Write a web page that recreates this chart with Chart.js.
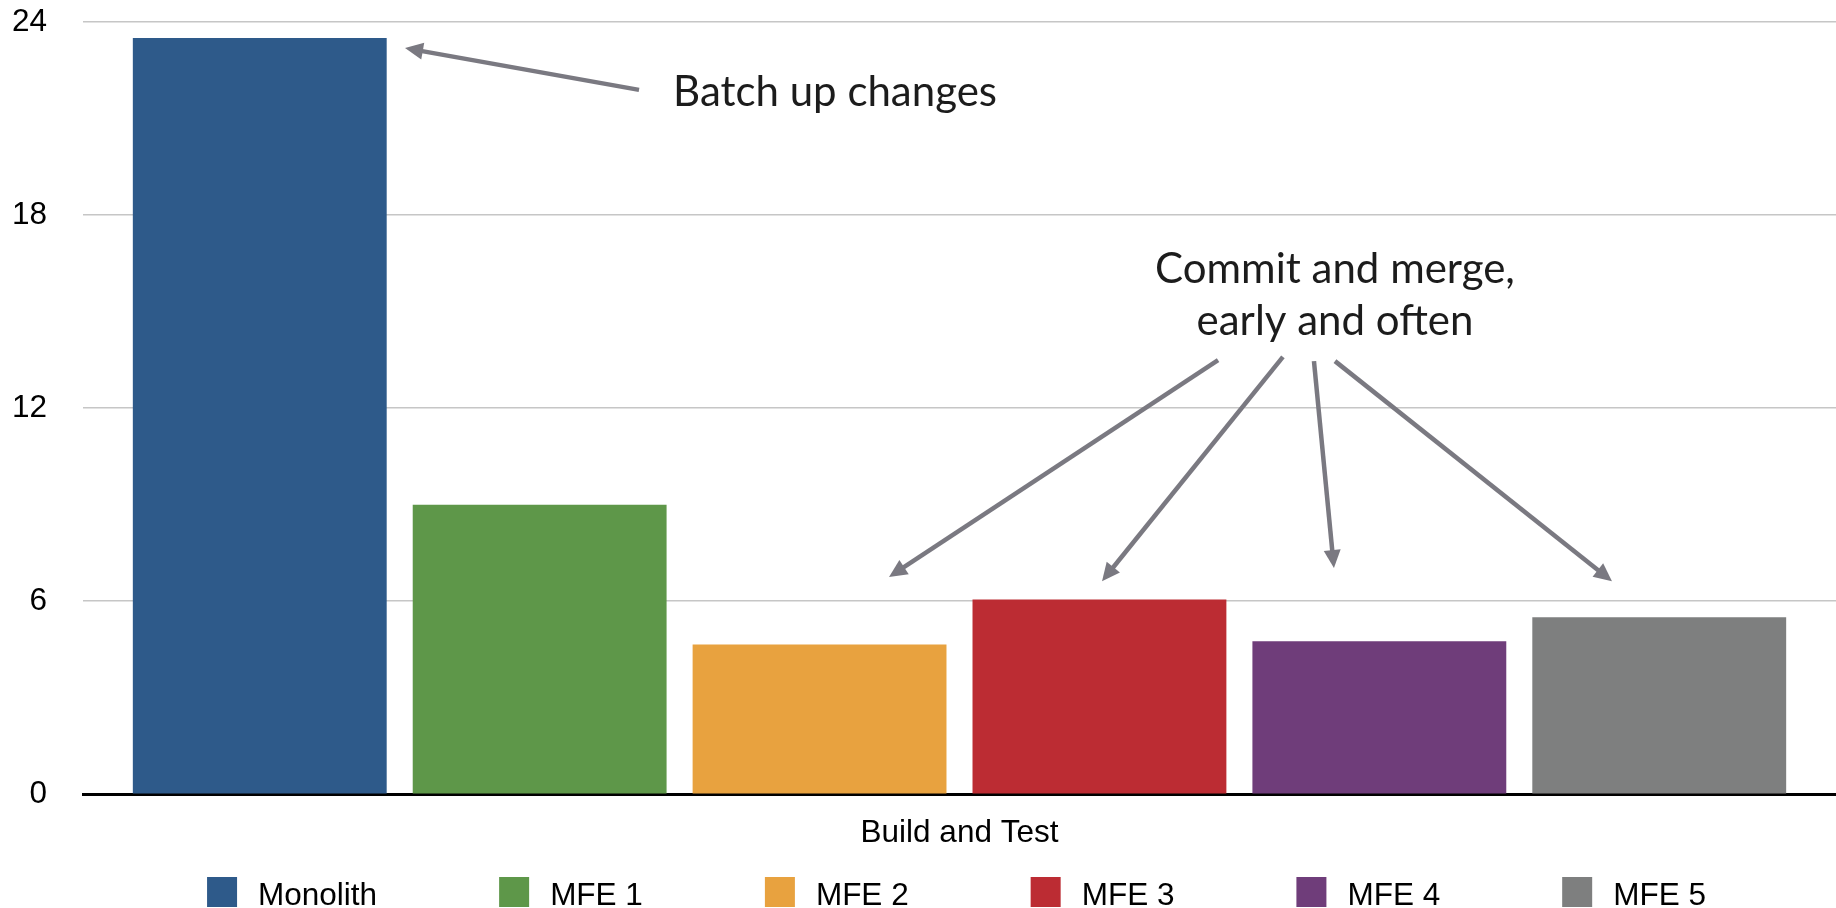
<!DOCTYPE html>
<html>
<head>
<meta charset="utf-8">
<script src="https://cdn.jsdelivr.net/npm/chart.js@4/dist/chart.umd.min.js"></script>
<style>
  html, body { margin: 0; padding: 0; background: #fff; }
  #wrap { width: 1836px; height: 908px; position: relative; }
</style>
</head>
<body>
<div id="wrap"><canvas id="myChart"></canvas></div>
<script>
const categories = ['Build and Test'];
const seriesNames = ['Monolith', 'MFE 1', 'MFE 2', 'MFE 3', 'MFE 4', 'MFE 5'];
const seriesValues = [23.5, 9.0, 4.65, 6.05, 4.75, 5.5];
const seriesColors = ['#2e5a8a', '#5e9749', '#e8a23f', '#bc2c33', '#6f3d7a', '#7e7f7f'];
const yTicks = [0, 6, 12, 18, 24];

// annotation anchors: x as a fraction of the plot width, y in axis units
const batchArrow = { from: [0.3172, 21.89], to: [0.1837, 23.19] };
const batchText = { at: [0.3366, 21.4], lines: ['Batch up changes'] };
const mergeArrows = [
    { from: [0.6475, 13.49], to: [0.4598, 6.75] },
    { from: [0.6845, 13.59], to: [0.5813, 6.62] },
    { from: [0.7022, 13.46], to: [0.7136, 7.03] },
    { from: [0.7142, 13.46], to: [0.8722, 6.62] },
];
const mergeText = { at: [0.7142, 15.89], lines: ['Commit and merge,', 'early and often'] };

const axisFont = { family: '"Liberation Sans", Arial, sans-serif', size: 31.5 };
const noteFont = '400 42px Lato, "Open Sans", sans-serif';
const arrowColor = '#7a7981';

const data = {
    labels: categories,
    datasets: seriesNames.map((name, i) => ({
        label: name,
        data: [seriesValues[i]],
        backgroundColor: seriesColors[i],
        borderWidth: 0,
    })),
};

function toPx(chart, p) {
    const area = chart.chartArea;
    return [area.left + p[0] * (area.right - area.left), chart.scales.y.getPixelForValue(p[1])];
}

function drawArrow(ctx, a, b) {
    const dx = b[0] - a[0], dy = b[1] - a[1];
    const len = Math.hypot(dx, dy);
    const ux = dx / len, uy = dy / len;
    const headLen = 18, headHalf = 8.5;
    const bx = b[0] - ux * headLen, by = b[1] - uy * headLen;
    ctx.beginPath();
    ctx.moveTo(a[0], a[1]);
    ctx.lineTo(bx + ux * 2, by + uy * 2);
    ctx.stroke();
    ctx.beginPath();
    ctx.moveTo(b[0], b[1]);
    ctx.lineTo(bx - uy * headHalf, by + ux * headHalf);
    ctx.lineTo(bx + uy * headHalf, by - ux * headHalf);
    ctx.closePath();
    ctx.fill();
}

const notesPlugin = {
    id: 'notes',
    afterDraw(chart) {
        const ctx = chart.ctx;
        ctx.save();
        ctx.strokeStyle = arrowColor;
        ctx.fillStyle = arrowColor;
        ctx.lineWidth = 4.5;
        ctx.lineCap = 'butt';
        drawArrow(ctx, toPx(chart, batchArrow.from), toPx(chart, batchArrow.to));
        mergeArrows.forEach(ar => drawArrow(ctx, toPx(chart, ar.from), toPx(chart, ar.to)));

        ctx.fillStyle = '#1c1c1c';
        ctx.font = noteFont;
        ctx.textBaseline = 'alphabetic';
        let p = toPx(chart, batchText.at);
        ctx.textAlign = 'left';
        ctx.fillText(batchText.lines[0], p[0], p[1]);
        p = toPx(chart, mergeText.at);
        ctx.textAlign = 'center';
        mergeText.lines.forEach((line, i) => ctx.fillText(line, p[0], p[1] + i * 52));
        ctx.restore();
    },
};

// legend drawn as a single row under the axis label
const legendPlugin = {
    id: 'rowLegend',
    afterDraw(chart) {
        const ctx = chart.ctx;
        const area = chart.chartArea;
        const box = 30, gap = 21, spacing = 122;
        ctx.save();
        ctx.font = axisFont.size + 'px ' + axisFont.family;
        const items = chart.data.datasets.map(ds => ({
            text: ds.label,
            color: ds.backgroundColor,
            w: box + gap + ctx.measureText(ds.label).width,
        }));
        const total = items.reduce((s, it) => s + it.w, 0) + spacing * (items.length - 1);
        let x = (area.left + area.right) / 2 - 3 - total / 2;
        const top = chart.height - 31;
        items.forEach(it => {
            ctx.fillStyle = it.color;
            ctx.fillRect(x, top, box, box);
            ctx.fillStyle = '#000';
            ctx.textBaseline = 'alphabetic';
            ctx.fillText(it.text, x + box + gap, top + 28);
            x += it.w + spacing;
        });
        ctx.restore();
    },
};

const config = {
    type: 'bar',
    data: data,
    options: {
        responsive: true,
        maintainAspectRatio: false,
        animation: false,
        categoryPercentage: 0.958,
        barPercentage: 0.907,
        layout: {
            padding: { left: 12, top: 22, right: 0, bottom: 44 },
        },
        plugins: {
            legend: { display: false },
            tooltip: { enabled: false },
            title: { display: false },
        },
        scales: {
            x: {
                grid: { display: false },
                border: { display: true, color: '#000', width: 3 },
                ticks: { color: '#000', font: axisFont, padding: 12 },
            },
            y: {
                min: 0,
                max: 24,
                afterBuildTicks: (scale) => {
                    scale.ticks = yTicks.map(v => ({ value: v }));
                },
                afterFit: (scale) => {
                    scale.width = 71;
                    scale.paddingTop = 0;
                    scale.paddingBottom = 0;
                },
                grid: { color: '#c6c6c6', lineWidth: 1.5, drawTicks: false },
                border: { display: false },
                ticks: { color: '#000', font: axisFont, padding: 36 },
            },
        },
    },
    plugins: [notesPlugin, legendPlugin],
};

const ctx = document.getElementById('myChart').getContext('2d');
const myChart = new Chart(ctx, config);
</script>
</body>
</html>
